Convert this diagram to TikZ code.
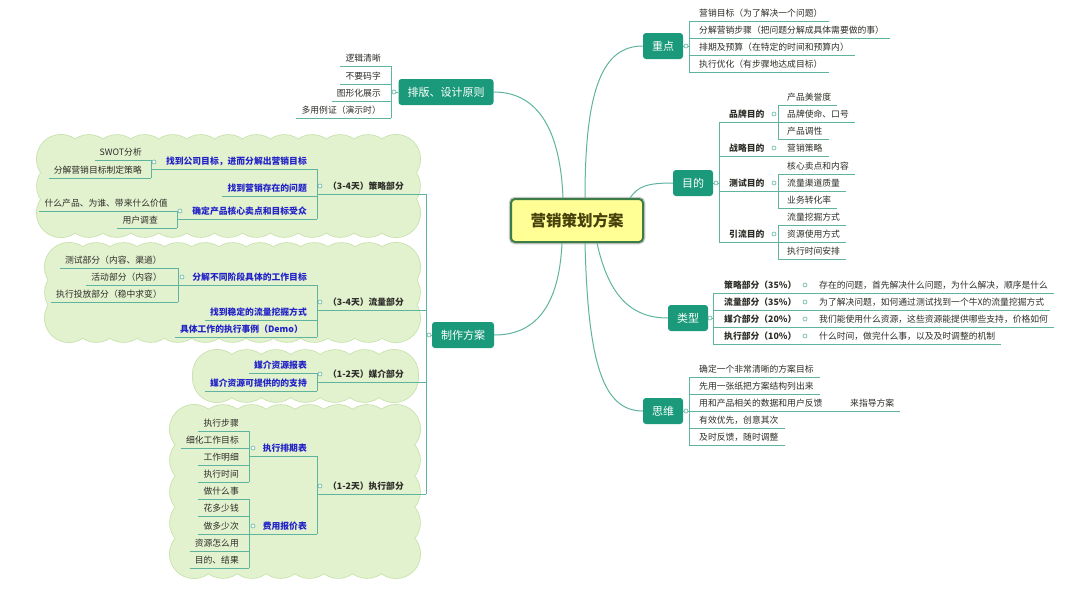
\documentclass[tikz,border=0pt]{standalone}
\usepackage{fontspec}
\setmainfont{Noto Sans CJK SC}
\definecolor{lc}{RGB}{95,180,160}
\definecolor{brc}{RGB}{26,154,122}
\definecolor{txt}{RGB}{45,45,40}
\definecolor{blu}{RGB}{35,35,200}
\definecolor{cf}{RGB}{226,241,206}
\definecolor{cb}{RGB}{200,226,172}
\definecolor{cy}{RGB}{255,255,150}
\definecolor{cg}{RGB}{60,125,70}
\definecolor{ct}{RGB}{70,65,10}
\newcommand\myfs{\fontsize{8.8pt}{10pt}\selectfont}
\newcommand\mybrf{\fontsize{11pt}{13pt}\selectfont}
\newcommand\mycf{\fontsize{15.5pt}{18pt}\selectfont\bfseries}
\newcommand\mycloud[4]{%
  \pgfmathsetmacro\cwa{#3-#1-48}%
  \pgfmathsetmacro\cha{#4-#2-48}%
  \pgfmathtruncatemacro\cnx{max(1,round(\cwa/28))}%
  \pgfmathtruncatemacro\cny{max(1,round(\cha/28))}%
  \foreach \i in {0,...,\cnx}{%
    \draw[cloudB] ({#1+24+\i*\cwa/\cnx},{#2+24}) circle (24pt);
    \draw[cloudB] ({#1+24+\i*\cwa/\cnx},{#4-24}) circle (24pt);}
  \foreach \j in {0,...,\cny}{%
    \draw[cloudB] ({#1+24},{#2+24+\j*\cha/\cny}) circle (24pt);
    \draw[cloudB] ({#3-24},{#2+24+\j*\cha/\cny}) circle (24pt);}
  \foreach \i in {0,...,\cnx}{%
    \fill[cf] ({#1+24+\i*\cwa/\cnx},{#2+24}) circle (24pt);
    \fill[cf] ({#1+24+\i*\cwa/\cnx},{#4-24}) circle (24pt);}
  \foreach \j in {0,...,\cny}{%
    \fill[cf] ({#1+24},{#2+24+\j*\cha/\cny}) circle (24pt);
    \fill[cf] ({#3-24},{#2+24+\j*\cha/\cny}) circle (24pt);}
  \fill[cf] ({#1+24},{#2+24}) rectangle ({#3-24},{#4-24});
}
\begin{document}
\begin{tikzpicture}[x=1pt,y=-1pt,
  cloudB/.style={draw=cb,fill=cf,line width=1.6pt},
  ul/.style={draw=lc,line width=0.9pt},
  mc/.style={draw=lc,line width=1pt},
  rl/.style={anchor=south west,inner xsep=0pt,inner ysep=3pt,text height=7pt,text depth=1.5pt,font=\myfs,text=txt},
  ll/.style={rl,anchor=south east},
  bd/.style={font=\myfs\bfseries},
  bl/.style={font=\myfs\bfseries,text=blu},
  br/.style={fill=brc,rounded corners=3pt,text=white,font=\mybrf,minimum height=26pt,inner xsep=9pt},
  dot/.style={circle,draw=lc,fill=white,line width=0.6pt,minimum size=4pt,inner sep=0pt},
  centerbox/.style={draw=cg,line width=2pt,fill=cy,rounded corners=4pt,minimum width=132pt,minimum height=43pt,font=\mycf,text=ct,preaction={draw=black!22,line width=4.5pt}}]
\useasboundingbox[fill=white] (0,0) rectangle (1080,592);

% clouds
\mycloud{37}{135}{420}{237}
\mycloud{45}{243}{420}{342}
\mycloud{193}{350}{418}{402}
\mycloud{170}{405}{420}{578}

% main nodes
\node[br] (zd) at (663,46) {重点};
\node[br] (md) at (693,183) {目的};
\node[br] (lx) at (688,318) {类型};
\node[br] (sw) at (663,411) {思维};
\node[br] (pb) at (446,92) {排版、设计原则};
\node[br] (zz) at (463,335) {制作方案};
\node[centerbox] (c) at (577,220.5) {营销策划方案};

% main curves
\draw[mc] ([xshift=8pt]c.north) .. controls +(0,-110) and +(-40,0) .. (zd.west);
\draw[mc] ([xshift=53pt]c.north) .. controls +(8,-12) and +(-25,0) .. (md.west);
\draw[mc] ([xshift=20pt]c.south) .. controls +(12,55) and +(-35,0) .. (lx.west);
\draw[mc] ([xshift=8pt]c.south) .. controls +(3,120) and +(-40,0) .. (sw.west);
\draw[mc] ([xshift=-14pt]c.north) .. controls +(-3,-75) and +(40,0) .. (pb.east);
\draw[mc] ([xshift=-15pt]c.south) .. controls +(-3,65) and +(40,0) .. (zz.east);

% ---------- 重点
\coordinate (zdv) at (689,46);
\node[rl] (zd1) at (699,21) {营销目标（为了解决一个问题）};
\node[rl] (zd2) at (699,38) {分解营销步骤（把问题分解成具体需要做的事）};
\node[rl] (zd3) at (699,55) {排期及预算（在特定的时间和预算内）};
\node[rl] (zd4) at (699,72) {执行优化（有步骤地达成目标）};
\draw[ul] (zd.east) -- (zdv);
\draw[ul] (zdv |- zd1.south) -- (zdv |- zd4.south);
\foreach \n in {zd1,zd2,zd3,zd4} \draw[ul] (zdv |- \n.south) -- ([xshift=6pt]\n.south east);
\node[dot] (zdd) at (686,46) {};

% ---------- 目的
\coordinate (mdv) at (719,183);
\node[rl,bd] (md1) at (729,122) {品牌目的};
\node[rl,bd] (md2) at (729,156) {战略目的};
\node[rl,bd] (md3) at (729,191) {测试目的};
\node[rl,bd] (md4) at (729,242) {引流目的};
\draw[ul] (md.east) -- (mdv);
\draw[ul] (mdv |- md1.south) -- (mdv |- md4.south);
\node[dot] (mdd) at (716,183) {};
% 品牌
\coordinate (m1v) at (778,114);
\node[rl] (m11) at (787,105) {产品美誉度};
\node[rl] (m12) at (787,122) {品牌使命、口号};
\node[rl] (m13) at (787,139) {产品调性};
\draw[ul] (mdv |- md1.south) -- (m1v |- md1.south);
\draw[ul] (m1v |- m11.south) -- (m1v |- m13.south);
\foreach \n in {m11,m12,m13} \draw[ul] (m1v |- \n.south) -- ([xshift=6pt]\n.south east);
\node[dot] (m1d) at (774,114) {};
% 战略
\node[rl] (m21) at (787,156) {营销策略};
\draw[ul] (mdv |- md2.south) -- ([xshift=6pt]m21.south east);
\node[dot] (m2d) at (774,148) {};
% 测试
\coordinate (m3v) at (778,183);
\node[rl] (m31) at (787,174) {核心卖点和内容};
\node[rl] (m32) at (787,191) {流量渠道质量};
\node[rl] (m33) at (787,208) {业务转化率};
\draw[ul] (mdv |- md3.south) -- (m3v |- md3.south);
\draw[ul] (m3v |- m31.south) -- (m3v |- m33.south);
\foreach \n in {m31,m32,m33} \draw[ul] (m3v |- \n.south) -- ([xshift=6pt]\n.south east);
\node[dot] (m3d) at (774,183) {};
% 引流
\coordinate (m4v) at (778,234);
\node[rl] (m41) at (787,225) {流量挖掘方式};
\node[rl] (m42) at (787,242) {资源使用方式};
\node[rl] (m43) at (787,259) {执行时间安排};
\draw[ul] (mdv |- md4.south) -- (m4v |- md4.south);
\draw[ul] (m4v |- m41.south) -- (m4v |- m43.south);
\foreach \n in {m41,m42,m43} \draw[ul] (m4v |- \n.south) -- ([xshift=6pt]\n.south east);
\node[dot] (m4d) at (774,234) {};

% ---------- 类型
\coordinate (lxv) at (713,318);
\node[rl,bd] (lx1) at (724,293) {策略部分（35\%）};
\node[rl,bd] (lx2) at (724,310) {流量部分（35\%）};
\node[rl,bd] (lx3) at (724,327) {媒介部分（20\%）};
\node[rl,bd] (lx4) at (724,344) {执行部分（10\%）};
\node[rl] (lc1) at (819,293) {存在的问题，首先解决什么问题，为什么解决，顺序是什么};
\node[rl] (lc2) at (819,310) {为了解决问题，如何通过测试找到一个牛X的流量挖掘方式};
\node[rl] (lc3) at (819,327) {我们能使用什么资源，这些资源能提供哪些支持，价格如何};
\node[rl] (lc4) at (819,344) {什么时间，做完什么事，以及及时调整的机制};
\draw[ul] (lx.east) -- (lxv);
\draw[ul] (lxv |- lx1.south) -- (lxv |- lx4.south);
\foreach \k in {1,2,3,4} \draw[ul] (lxv |- lx\k.south) -- ([xshift=6pt]lc\k.south east);
\node[dot] (lxd) at (710,318) {};
\node[dot] (lxd1) at (805,285) {};
\node[dot] (lxd2) at (805,302) {};
\node[dot] (lxd3) at (805,319) {};
\node[dot] (lxd4) at (805,336) {};

% ---------- 思维
\coordinate (swv) at (689,411);
\node[rl] (sw1) at (699,377) {确定一个非常清晰的方案目标};
\node[rl] (sw2) at (699,394) {先用一张纸把方案结构列出来};
\node[rl] (sw3) at (699,411) {用和产品相关的数据和用户反馈};
\node[rl] (sw4) at (699,428) {有效优先，创意其次};
\node[rl] (sw5) at (699,445) {及时反馈，随时调整};
\node[rl] (sw6) at (850,411) {来指导方案};
\draw[ul] (sw.east) -- (swv);
\draw[ul] (swv |- sw1.south) -- (swv |- sw5.south);
\foreach \n in {sw1,sw2,sw4,sw5} \draw[ul] (swv |- \n.south) -- ([xshift=6pt]\n.south east);
\draw[ul] (swv |- sw3.south) -- ([xshift=6pt]sw6.south east);
\node[dot] (swd) at (686,411) {};

% ---------- 排版、设计原则
\coordinate (pbv) at (391,92);
\node[ll] (pb1) at (381,66) {逻辑清晰};
\node[ll] (pb2) at (381,84) {不要码字};
\node[ll] (pb3) at (381,101) {图形化展示};
\node[ll] (pb4) at (381,118) {多用例证（演示时）};
\draw[ul] (pb.west) -- (pbv);
\draw[ul] (pbv |- pb1.south) -- (pbv |- pb4.south);
\foreach \n in {pb1,pb2,pb3,pb4} \draw[ul] ([xshift=-5pt]\n.south west) -- (pbv |- \n.south);
\node[dot] (pbd) at (394,92) {};

% ---------- 制作方案
\coordinate (zzv) at (426,335);
\node[ll,bd] (zz1) at (404,194) {（3-4天）策略部分};
\node[ll,bd] (zz2) at (404,310) {（3-4天）流量部分};
\node[ll,bd] (zz3) at (404,382) {（1-2天）媒介部分};
\node[ll,bd] (zz4) at (404,494) {（1-2天）执行部分};
\draw[ul] (zz.west) -- (zzv);
\draw[ul] (zzv |- zz1.south) -- (zzv |- zz4.south);
\coordinate (gv) at (317,335);
\foreach \n in {zz1,zz2,zz3,zz4} \draw[ul] (gv |- \n.south) -- (zzv |- \n.south);
\node[dot] (zzd) at (429,335) {};
\node[dot] (zzd1) at (320,186) {};
\node[dot] (zzd2) at (320,302) {};
\node[dot] (zzd3) at (320,374) {};
\node[dot] (zzd4) at (320,486) {};

% 策略 group
\node[ll,bl] (cl1) at (307,169) {找到公司目标，进而分解出营销目标};
\node[ll,bl] (cl2) at (307,196) {找到营销存在的问题};
\node[ll,bl] (cl3) at (307,219) {确定产品核心卖点和目标受众};
\draw[ul] (gv |- cl1.south) -- (gv |- cl3.south);
\coordinate (s1v) at (151,169);
\coordinate (s3v) at (177,219);
\draw[ul] (s1v |- cl1.south) -- (gv |- cl1.south);
\draw[ul] ([xshift=-5pt]cl2.south west) -- (gv |- cl2.south);
\draw[ul] (s3v |- cl3.south) -- (gv |- cl3.south);
\node[ll] (s11) at (142,160) {SWOT分析};
\node[ll] (s12) at (142,178) {分解营销目标制定策略};
\draw[ul] (s1v |- s11.south) -- (s1v |- s12.south);
\foreach \n in {s11,s12} \draw[ul] ([xshift=-5pt]\n.south west) -- (s1v |- \n.south);
\node[dot] (s1d) at (154,162) {};
\node[ll] (s31) at (168,211) {什么产品、为谁、带来什么价值};
\node[ll] (s32) at (158,228) {用户调查};
\draw[ul] (s3v |- s31.south) -- (s3v |- s32.south);
\foreach \n in {s31,s32} \draw[ul] ([xshift=-5pt]\n.south west) -- (s3v |- \n.south);
\node[dot] (s3d) at (180,211) {};

% 流量 group
\node[ll,bl] (fl1) at (307,285) {分解不同阶段具体的工作目标};
\node[ll,bl] (fl2) at (307,320) {找到稳定的流量挖掘方式};
\node[ll,bl] (fl3) at (303,337) {具体工作的执行事例（Demo）};
\draw[ul] (gv |- fl1.south) -- (gv |- fl3.south);
\coordinate (f1v) at (178,285);
\draw[ul] (f1v |- fl1.south) -- (gv |- fl1.south);
\foreach \n in {fl2,fl3} \draw[ul] ([xshift=-5pt]\n.south west) -- (gv |- \n.south);
\node[ll] (f11) at (162,268) {测试部分（内容、渠道）};
\node[ll] (f12) at (162,285) {活动部分（内容）};
\node[ll] (f13) at (162,302) {执行投放部分（稳中求变）};
\draw[ul] (f1v |- f11.south) -- (f1v |- f13.south);
\foreach \n in {f11,f12,f13} \draw[ul] ([xshift=-5pt]\n.south west) -- (f1v |- \n.south);
\node[dot] (f1d) at (182,277) {};

% 媒介 group
\node[ll,bl] (mj1) at (307,373) {媒介资源报表};
\node[ll,bl] (mj2) at (307,391) {媒介资源可提供的的支持};
\draw[ul] (gv |- mj1.south) -- (gv |- mj2.south);
\foreach \n in {mj1,mj2} \draw[ul] ([xshift=-5pt]\n.south west) -- (gv |- \n.south);

% 执行 group
\node[ll,bl] (zx1) at (307,456) {执行排期表};
\node[ll,bl] (zx2) at (307,534) {费用报价表};
\draw[ul] (gv |- zx1.south) -- (gv |- zx2.south);
\coordinate (xv) at (249,494);
\foreach \n in {zx1,zx2} \draw[ul] (xv |- \n.south) -- (gv |- \n.south);
\node[ll] (x11) at (239,431) {执行步骤};
\node[ll] (x12) at (239,448) {细化工作目标};
\node[ll] (x13) at (239,465) {工作明细};
\node[ll] (x14) at (239,482) {执行时间};
\draw[ul] (xv |- x11.south) -- (xv |- x14.south);
\foreach \n in {x11,x12,x13,x14} \draw[ul] ([xshift=-5pt]\n.south west) -- (xv |- \n.south);
\node[dot] (x1d) at (253,448) {};
\node[ll] (x21) at (239,499) {做什么事};
\node[ll] (x22) at (239,516.5) {花多少钱};
\node[ll] (x23) at (239,534) {做多少次};
\node[ll] (x24) at (239,551) {资源怎么用};
\node[ll] (x25) at (239,568) {目的、结果};
\draw[ul] (xv |- x21.south) -- (xv |- x25.south);
\foreach \n in {x21,x22,x23,x24,x25} \draw[ul] ([xshift=-5pt]\n.south west) -- (xv |- \n.south);
\node[dot] (x2d) at (253,526) {};
\end{tikzpicture}
\end{document}
